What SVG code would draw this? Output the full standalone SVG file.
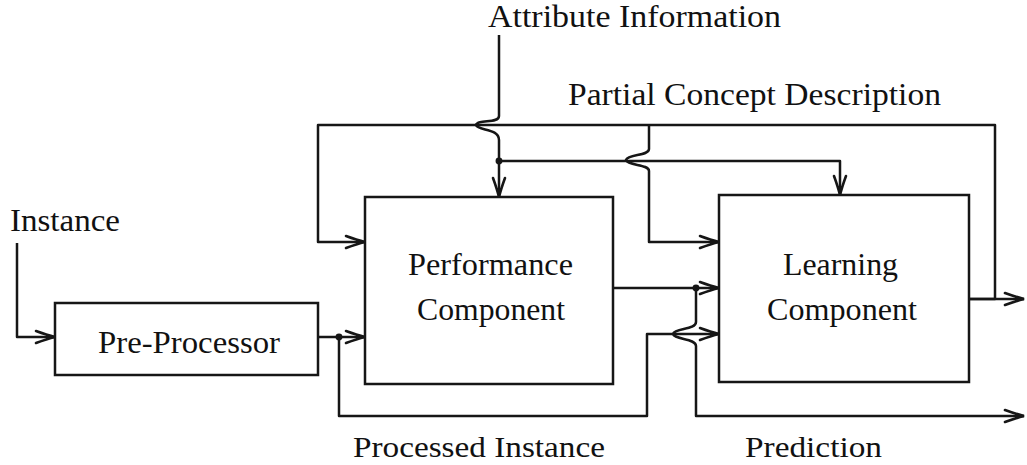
<svg xmlns="http://www.w3.org/2000/svg" width="1027" height="465" viewBox="0 0 1027 465">
  <style>
    .box { fill: #fff; stroke: #161616; stroke-width: 2.5; }
    .wire { fill: none; stroke: #161616; stroke-width: 2.5; stroke-linejoin: round; }
    .lbl { font-family: "Liberation Serif", "Times New Roman", serif; font-size: 31px; fill: #111; }
    .low { font-size: 29px; }
    .dot { fill: #161616; }
  </style>
  <defs>
    <marker id="arrow" markerUnits="userSpaceOnUse" viewBox="-22 -9 24 18" refX="0" refY="0" markerWidth="24" markerHeight="18" orient="auto">
      <path d="M-19,-6 Q-8,-2 0,0 Q-8,2 -19,6" fill="none" stroke="#161616" stroke-width="2.6" stroke-linecap="round"/>
      <path d="M-9,-2.2 L0,0 L-9,2.2 Z" fill="#161616"/>
    </marker>
  </defs>

  <rect width="1027" height="465" fill="#fff"/>

  <!-- connectors -->
  <g id="connectors" class="wire">
    <!-- instance into pre-processor -->
    <path d="M17,243 V337 H55" marker-end="url(#arrow)"/>
    <!-- pre-processor to performance -->
    <path d="M318,337 H365" marker-end="url(#arrow)"/>
    <!-- processed instance routed to learning -->
    <path d="M339,337 V416 H647 V334 H719" marker-end="url(#arrow)"/>
    <!-- attribute information, hopping over the concept line -->
    <path d="M499,35 V116 C499,124 478,119 476,125 C478,131 499,128 499,140 V197" marker-end="url(#arrow)"/>
    <!-- attribute information branch to learning -->
    <path d="M499,161 H840 V195" marker-end="url(#arrow)"/>
    <!-- partial concept description feedback loop -->
    <path d="M969,299 H995 V125 H318 V242 H365" marker-end="url(#arrow)"/>
    <!-- concept description into learning -->
    <path d="M649,125 V149 C649,156 628,154 626,160 C628,166 649,164 649,171 V242 H719" marker-end="url(#arrow)"/>
    <!-- learning output -->
    <path d="M969,299 H1024" marker-end="url(#arrow)"/>
    <!-- performance output to learning -->
    <path d="M613,288 H719" marker-end="url(#arrow)"/>
    <!-- prediction output, hopping over processed instance -->
    <path d="M696,288 V322 C696,330 675,328 673,334 C675,340 696,338 696,346 V416 H1024" marker-end="url(#arrow)"/>
    <circle class="dot" cx="339" cy="337" r="2.2"/>
    <circle class="dot" cx="499" cy="161" r="2.2"/>
    <circle class="dot" cx="696" cy="288" r="2.2"/>
  </g>

  <!-- nodes -->
  <g id="pre-processor">
    <rect class="box" x="55" y="303" width="263" height="72"/>
    <text class="lbl" x="98" y="353" textLength="182" lengthAdjust="spacingAndGlyphs">Pre-Processor</text>
  </g>
  <g id="performance-component">
    <rect class="box" x="365" y="197" width="248" height="187"/>
    <text class="lbl" x="408" y="275" textLength="165" lengthAdjust="spacingAndGlyphs">Performance</text>
    <text class="lbl" x="417" y="320" textLength="148" lengthAdjust="spacingAndGlyphs">Component</text>
  </g>
  <g id="learning-component">
    <rect class="box" x="719" y="195" width="250" height="187"/>
    <text class="lbl" x="783" y="275" textLength="115" lengthAdjust="spacingAndGlyphs">Learning</text>
    <text class="lbl" x="767" y="320" textLength="150" lengthAdjust="spacingAndGlyphs">Component</text>
  </g>

  <!-- flow labels -->
  <g id="labels">
    <text class="lbl" x="488" y="27" textLength="293" lengthAdjust="spacingAndGlyphs">Attribute Information</text>
    <text class="lbl" x="568" y="105" textLength="373" lengthAdjust="spacingAndGlyphs">Partial Concept Description</text>
    <text class="lbl" x="10" y="231" textLength="110" lengthAdjust="spacingAndGlyphs">Instance</text>
    <text class="lbl low" x="353" y="457" textLength="252" lengthAdjust="spacingAndGlyphs">Processed Instance</text>
    <text class="lbl low" x="745" y="457" textLength="137" lengthAdjust="spacingAndGlyphs">Prediction</text>
  </g>
</svg>
